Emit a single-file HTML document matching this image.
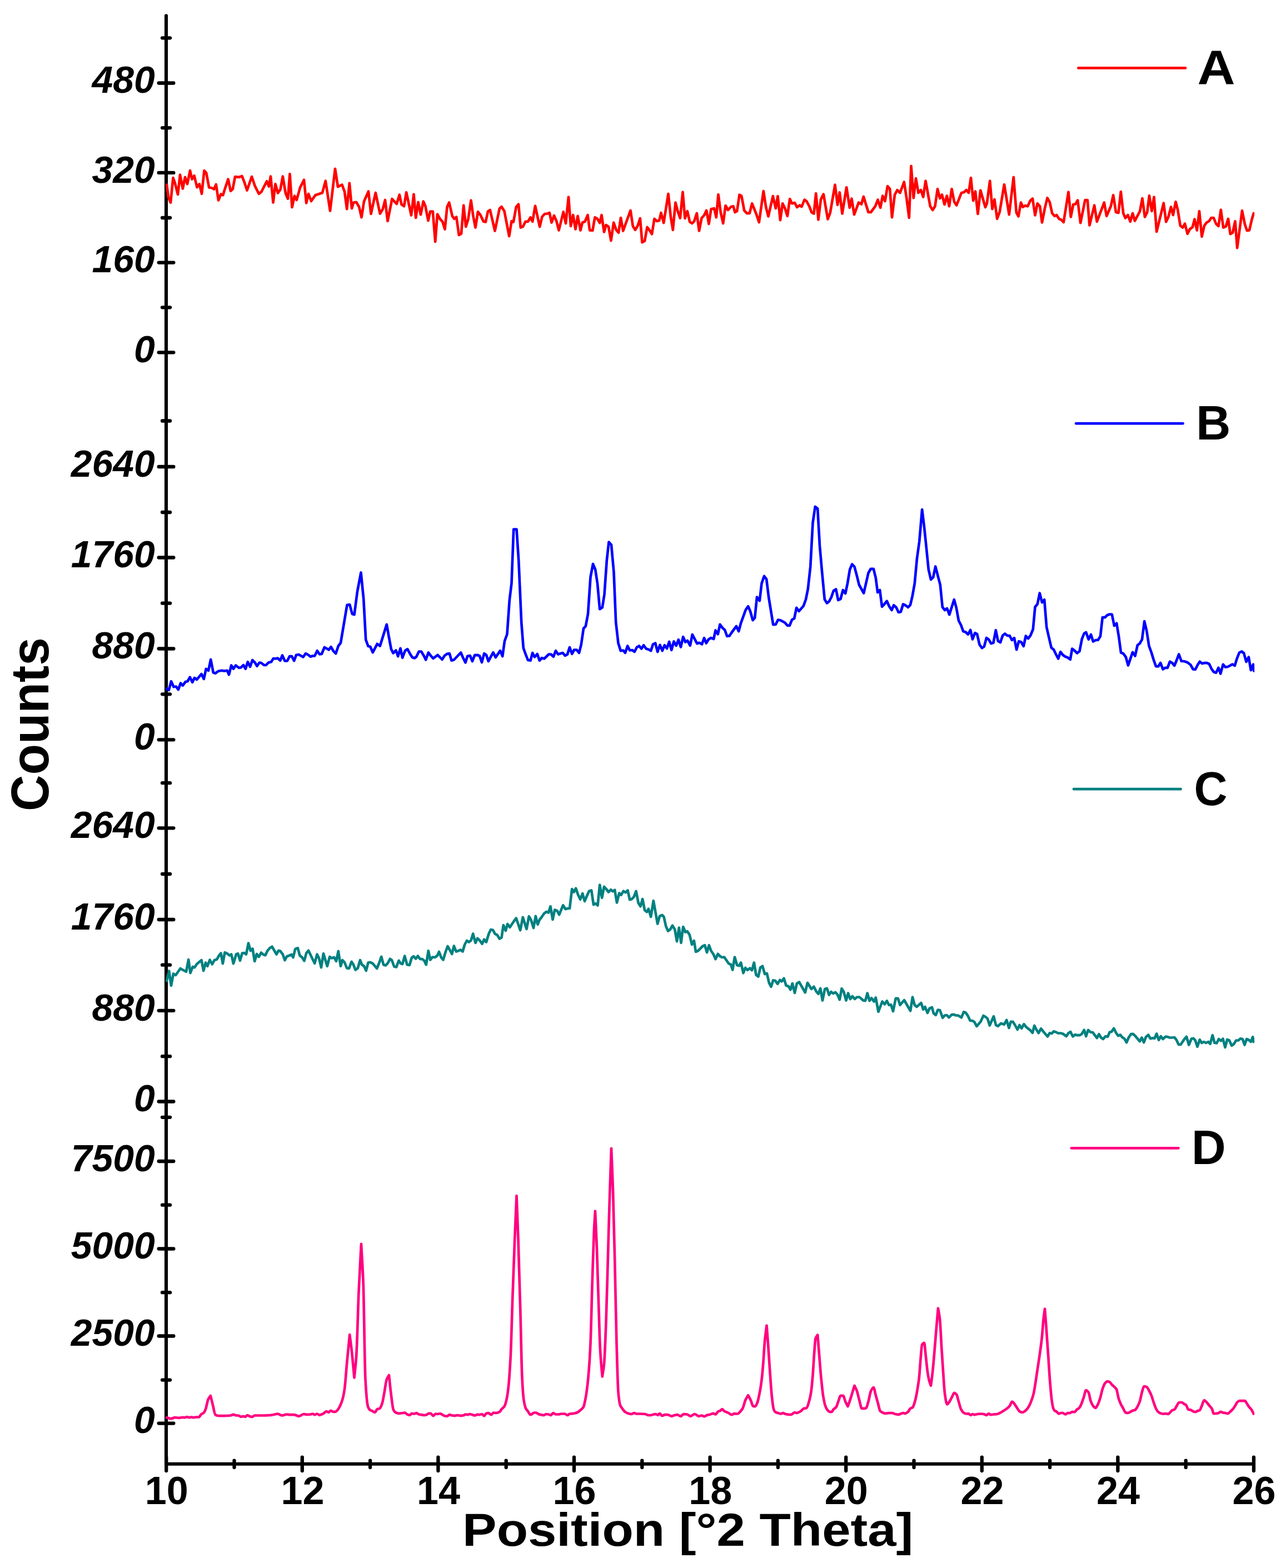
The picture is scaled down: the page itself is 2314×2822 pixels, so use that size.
<!DOCTYPE html>
<html lang="en"><head><meta charset="utf-8"><title>XRD patterns A-D</title>
<style>html,body{margin:0;padding:0;background:#fff}svg{display:block}text{font-family:"Liberation Sans",Arial,Helvetica,sans-serif;font-weight:bold;fill:#000}.yt{font-style:italic;font-size:70px;text-anchor:end}.xt{font-size:70.5px;text-anchor:middle}.ax{stroke:#000;stroke-linecap:round;fill:none}.cv{fill:none;stroke-linejoin:round;stroke-linecap:round;stroke-width:4.7}</style></head><body>
<svg width="2314" height="2822" viewBox="0 0 2314 2822" role="img" aria-label="X-ray diffraction patterns A, B, C and D: Counts versus Position in degrees 2 Theta">
<rect width="2314" height="2822" fill="#fff"/>
<g class="ax" stroke-width="6.1">
<line x1="299.0" y1="28.2" x2="299.0" y2="2634.8"/>
<line x1="299.0" y1="2634.8" x2="2256.0" y2="2634.8"/>
</g>
<g class="ax" stroke-width="6.3">
<line x1="285.7" y1="149.5" x2="312.3" y2="149.5"/>
<line x1="285.7" y1="310.9" x2="312.3" y2="310.9"/>
<line x1="285.7" y1="472.6" x2="312.3" y2="472.6"/>
<line x1="285.7" y1="634.3" x2="312.3" y2="634.3"/>
<line x1="285.7" y1="840.0" x2="312.3" y2="840.0"/>
<line x1="285.7" y1="1003.5" x2="312.3" y2="1003.5"/>
<line x1="285.7" y1="1167.5" x2="312.3" y2="1167.5"/>
<line x1="285.7" y1="1331.3" x2="312.3" y2="1331.3"/>
<line x1="285.7" y1="1490.3" x2="312.3" y2="1490.3"/>
<line x1="285.7" y1="1655.0" x2="312.3" y2="1655.0"/>
<line x1="285.7" y1="1818.8" x2="312.3" y2="1818.8"/>
<line x1="285.7" y1="1982.5" x2="312.3" y2="1982.5"/>
<line x1="285.7" y1="2090.0" x2="312.3" y2="2090.0"/>
<line x1="285.7" y1="2247.5" x2="312.3" y2="2247.5"/>
<line x1="285.7" y1="2404.5" x2="312.3" y2="2404.5"/>
<line x1="285.7" y1="2561.6" x2="312.3" y2="2561.6"/>
<line x1="292.0" y1="68.3" x2="306.0" y2="68.3"/>
<line x1="292.0" y1="230.1" x2="306.0" y2="230.1"/>
<line x1="292.0" y1="392.0" x2="306.0" y2="392.0"/>
<line x1="292.0" y1="553.3" x2="306.0" y2="553.3"/>
<line x1="292.0" y1="757.5" x2="306.0" y2="757.5"/>
<line x1="292.0" y1="922.0" x2="306.0" y2="922.0"/>
<line x1="292.0" y1="1085.7" x2="306.0" y2="1085.7"/>
<line x1="292.0" y1="1249.3" x2="306.0" y2="1249.3"/>
<line x1="292.0" y1="1409.2" x2="306.0" y2="1409.2"/>
<line x1="292.0" y1="1573.0" x2="306.0" y2="1573.0"/>
<line x1="292.0" y1="1736.7" x2="306.0" y2="1736.7"/>
<line x1="292.0" y1="1901.2" x2="306.0" y2="1901.2"/>
<line x1="292.0" y1="2010.8" x2="306.0" y2="2010.8"/>
<line x1="292.0" y1="2168.7" x2="306.0" y2="2168.7"/>
<line x1="292.0" y1="2326.2" x2="306.0" y2="2326.2"/>
<line x1="292.0" y1="2483.6" x2="306.0" y2="2483.6"/>
<line x1="299.2" y1="2622.6" x2="299.2" y2="2647.0"/>
<line x1="421.5" y1="2628.6" x2="421.5" y2="2641.0"/>
<line x1="543.8" y1="2622.6" x2="543.8" y2="2647.0"/>
<line x1="666.1" y1="2628.6" x2="666.1" y2="2641.0"/>
<line x1="788.4" y1="2622.6" x2="788.4" y2="2647.0"/>
<line x1="910.7" y1="2628.6" x2="910.7" y2="2641.0"/>
<line x1="1033.0" y1="2622.6" x2="1033.0" y2="2647.0"/>
<line x1="1155.3" y1="2628.6" x2="1155.3" y2="2641.0"/>
<line x1="1277.6" y1="2622.6" x2="1277.6" y2="2647.0"/>
<line x1="1399.9" y1="2628.6" x2="1399.9" y2="2641.0"/>
<line x1="1522.2" y1="2622.6" x2="1522.2" y2="2647.0"/>
<line x1="1644.5" y1="2628.6" x2="1644.5" y2="2641.0"/>
<line x1="1766.8" y1="2622.6" x2="1766.8" y2="2647.0"/>
<line x1="1889.1" y1="2628.6" x2="1889.1" y2="2641.0"/>
<line x1="2011.4" y1="2622.6" x2="2011.4" y2="2647.0"/>
<line x1="2133.7" y1="2628.6" x2="2133.7" y2="2641.0"/>
<line x1="2256.0" y1="2622.6" x2="2256.0" y2="2647.0"/>
</g>
<clipPath id="plot"><rect x="296" y="0" width="1961.2" height="2634"/></clipPath>
<g clip-path="url(#plot)">
<polyline class="cv" stroke="#ff0000" points="300.0,332.5 303.0,355.0 307.0,364.5 311.5,320.0 315.0,330.0 320.0,350.0 324.0,314.5 328.8,339.5 333.0,318.8 337.0,331.2 342.0,307.0 345.5,322.5 349.5,316.2 354.5,337.0 358.8,331.2 363.0,348.8 367.5,307.0 371.2,311.2 376.2,337.5 380.5,338.0 385.0,340.5 388.8,332.0 393.0,360.5 397.5,349.5 401.2,351.2 405.5,337.5 410.5,322.5 415.0,343.8 418.8,340.0 423.0,318.0 430.0,318.8 435.5,317.0 440.0,328.8 444.5,342.5 453.0,318.0 458.8,335.0 465.8,348.8 470.5,345.0 480.0,326.2 483.8,335.5 487.0,317.5 491.5,364.5 495.5,331.2 500.0,347.5 504.5,341.2 508.8,317.5 513.8,347.5 518.0,357.5 521.5,313.0 525.5,373.0 530.0,352.5 533.8,360.0 540.0,337.5 547.0,323.8 551.2,365.5 555.0,348.8 560.0,362.0 567.5,351.2 580.0,347.0 585.8,325.5 594.0,379.5 603.0,303.8 608.0,336.2 615.5,332.5 620.0,345.0 624.2,376.2 628.8,329.5 633.0,375.0 636.2,364.5 641.2,363.8 646.2,372.5 650.5,391.2 655.0,362.5 663.0,344.5 667.5,385.0 675.8,347.0 683.8,384.5 688.8,376.2 693.0,360.0 697.5,398.0 705.5,358.0 713.8,367.0 718.8,350.5 722.5,368.0 727.0,371.2 731.2,346.2 740.0,387.5 744.5,349.5 748.2,392.0 752.5,363.8 757.0,386.2 761.8,362.5 765.5,371.2 770.5,397.0 774.2,380.5 778.8,380.5 783.2,435.0 787.0,385.5 792.0,394.5 796.2,398.8 800.5,412.5 804.5,372.5 808.2,364.5 813.8,388.8 817.5,393.8 821.2,390.5 825.8,423.0 830.0,420.5 834.2,369.5 838.2,408.0 842.5,394.5 847.5,360.5 851.2,387.5 855.5,409.5 860.0,381.2 864.5,387.0 870.0,398.8 873.8,399.5 878.0,380.5 881.8,378.0 890.5,415.5 898.8,375.5 902.5,372.0 907.5,380.0 916.2,425.0 920.5,398.0 923.8,399.5 928.8,372.5 933.0,367.5 936.8,409.5 941.2,407.5 945.5,398.8 950.0,398.8 954.5,391.2 958.2,398.8 963.0,370.5 971.2,408.0 975.5,390.0 980.0,385.0 985.0,384.5 988.8,383.0 992.5,400.5 997.0,388.0 1001.2,397.5 1005.5,414.5 1013.8,381.2 1018.0,402.0 1023.0,354.5 1027.0,407.0 1031.2,387.0 1035.5,412.5 1039.5,388.8 1044.5,414.5 1048.0,400.5 1052.5,398.8 1057.5,387.0 1061.2,414.5 1066.2,415.0 1070.5,391.2 1075.0,393.8 1079.2,401.2 1082.5,387.0 1087.0,417.5 1090.5,405.0 1095.0,408.0 1099.5,433.0 1104.2,400.5 1108.8,413.8 1113.0,418.8 1117.0,392.0 1121.2,415.5 1125.0,405.0 1134.5,378.8 1138.8,407.0 1143.0,413.8 1147.5,406.2 1151.8,393.0 1155.5,436.2 1160.0,433.8 1164.5,408.8 1168.8,414.5 1173.0,421.2 1177.5,393.8 1182.0,398.0 1186.2,397.0 1189.5,383.0 1194.2,401.2 1202.5,348.8 1206.8,389.5 1210.8,413.8 1215.5,364.5 1219.5,380.0 1223.8,392.5 1228.5,345.5 1232.5,393.0 1236.8,380.0 1241.2,399.5 1245.5,402.0 1249.2,398.0 1253.8,383.8 1258.0,415.5 1262.5,392.5 1267.0,387.5 1271.2,378.8 1275.5,403.0 1279.5,376.2 1285.0,375.0 1288.8,391.2 1292.5,350.0 1296.8,382.5 1301.2,402.0 1305.5,370.0 1310.0,378.0 1315.5,372.0 1319.5,371.2 1322.5,382.0 1326.2,380.0 1330.5,350.5 1334.2,352.5 1339.2,378.8 1343.8,383.8 1348.8,383.8 1353.2,366.2 1361.2,386.2 1365.8,400.0 1373.8,343.8 1378.2,372.5 1382.5,389.5 1390.8,353.0 1395.8,375.0 1399.5,353.0 1404.0,396.2 1408.2,366.2 1412.5,375.0 1416.8,388.8 1421.2,358.0 1425.0,366.2 1430.0,365.0 1434.2,373.0 1438.8,369.5 1442.5,372.0 1447.5,359.5 1451.2,362.0 1456.2,371.2 1460.5,382.5 1464.5,384.5 1468.2,348.0 1472.5,395.5 1477.0,358.8 1481.8,349.5 1489.5,394.5 1493.8,383.0 1502.5,332.5 1507.0,368.8 1510.8,346.2 1515.5,384.5 1523.2,337.0 1528.8,373.8 1532.5,357.5 1537.0,386.2 1545.0,364.5 1550.0,367.5 1553.8,353.8 1562.5,382.0 1567.0,382.0 1575.0,371.2 1579.5,359.5 1584.2,373.8 1588.2,352.5 1592.5,362.0 1597.0,335.0 1601.2,340.0 1605.0,391.2 1610.0,350.5 1614.5,342.0 1619.5,347.0 1626.8,327.5 1631.2,356.2 1635.8,392.0 1639.5,298.8 1643.8,356.2 1648.0,321.2 1652.5,347.0 1657.0,342.0 1661.2,354.5 1665.5,325.5 1673.8,371.2 1678.2,378.0 1682.5,371.2 1687.0,340.0 1691.2,357.0 1695.0,350.5 1699.5,368.0 1703.8,352.5 1708.0,371.2 1712.5,340.0 1717.0,363.0 1721.2,369.5 1730.0,347.0 1734.2,346.2 1738.8,342.0 1743.0,347.0 1747.0,320.0 1751.2,361.2 1755.0,344.5 1759.5,385.0 1764.2,342.5 1773.0,373.0 1775.8,366.2 1781.2,325.5 1785.5,376.2 1789.5,358.8 1794.2,393.8 1798.8,381.2 1807.0,332.0 1815.8,386.2 1823.8,318.8 1828.8,382.5 1832.5,389.5 1837.0,364.5 1840.5,372.5 1845.0,370.0 1849.2,371.2 1853.8,361.2 1858.0,357.5 1862.5,387.5 1866.8,366.2 1871.2,371.2 1875.0,400.5 1880.0,375.0 1884.5,356.2 1888.8,363.8 1893.2,383.8 1897.5,388.8 1901.2,387.0 1905.5,393.8 1909.5,395.5 1913.8,400.0 1922.5,345.5 1926.8,390.5 1931.2,368.0 1935.0,367.5 1939.2,360.5 1944.2,401.2 1952.5,360.0 1956.8,360.0 1960.5,405.5 1969.2,369.5 1973.8,398.8 1986.8,364.5 1991.2,388.8 1998.8,371.2 2003.2,351.2 2008.0,382.0 2012.5,383.0 2016.8,345.0 2021.2,383.8 2025.0,392.5 2029.5,387.0 2033.8,398.8 2038.0,383.8 2042.0,397.5 2051.2,380.0 2055.5,357.0 2060.0,390.5 2064.2,382.0 2068.0,352.0 2072.5,380.0 2076.5,354.5 2081.2,417.0 2093.8,365.5 2098.2,399.2 2102.5,390.0 2107.0,372.5 2110.8,387.0 2115.5,363.2 2119.2,377.5 2123.8,406.2 2128.2,409.5 2132.0,402.5 2136.8,420.8 2140.8,412.5 2145.8,408.8 2149.5,394.5 2153.8,414.5 2158.0,380.0 2162.5,425.8 2167.0,406.2 2171.2,400.5 2175.5,398.0 2179.5,392.0 2183.8,392.0 2188.0,402.5 2192.5,407.0 2196.8,377.5 2201.2,409.5 2205.8,407.5 2210.0,393.8 2213.8,421.2 2218.0,418.8 2222.5,398.2 2226.2,446.2 2235.0,379.2 2240.0,403.8 2243.8,415.0 2248.0,414.5 2252.5,395.0 2255.8,383.8"/>
<polyline class="cv" stroke="#0000ff" points="300.0,1239.5 303.8,1242.0 308.0,1226.2 312.5,1236.2 316.8,1235.5 320.8,1241.2 325.0,1229.5 328.8,1233.8 333.8,1227.0 337.5,1226.2 341.8,1218.8 346.2,1228.0 350.0,1220.0 354.2,1223.0 362.5,1213.0 366.8,1222.0 370.8,1203.8 375.0,1207.0 379.2,1187.0 383.8,1210.5 387.5,1211.8 392.5,1208.0 398.8,1206.8 403.8,1207.5 408.8,1206.8 412.0,1214.2 416.2,1197.5 420.0,1203.8 424.2,1197.5 430.0,1202.0 433.8,1201.2 438.0,1197.0 441.8,1203.8 445.8,1191.2 450.0,1200.0 454.2,1188.0 458.8,1192.5 462.5,1198.8 466.8,1192.5 470.0,1193.0 475.0,1197.0 478.8,1197.0 483.0,1192.5 488.0,1191.2 492.0,1185.0 496.2,1185.5 499.5,1184.5 504.2,1188.8 508.0,1179.5 512.5,1189.5 516.8,1189.5 521.2,1181.2 525.0,1181.2 529.2,1189.2 533.0,1178.8 537.5,1178.0 545.5,1182.5 550.0,1176.2 553.8,1178.0 558.8,1181.8 562.5,1180.5 566.2,1180.5 570.8,1171.2 575.0,1177.5 578.8,1177.0 583.8,1165.0 587.5,1167.0 591.8,1169.5 595.5,1164.2 600.0,1171.8 604.2,1176.2 608.8,1162.5 613.0,1157.0 624.5,1088.8 629.2,1088.0 633.8,1105.0 637.5,1106.2 643.0,1064.5 649.5,1030.5 654.2,1077.5 658.2,1151.2 662.5,1163.0 666.2,1163.8 670.8,1174.2 678.8,1158.8 683.8,1162.5 695.8,1123.8 700.0,1147.5 703.8,1168.0 707.5,1175.5 712.5,1170.5 716.2,1181.2 720.5,1166.8 724.2,1183.8 728.8,1171.2 733.2,1168.2 737.5,1176.2 741.8,1183.0 745.8,1184.5 749.2,1182.0 753.8,1172.5 758.0,1172.5 762.5,1180.0 766.2,1187.5 770.8,1174.5 775.0,1180.0 779.5,1185.0 787.5,1178.8 791.2,1182.5 795.5,1187.0 800.0,1180.0 804.2,1176.8 808.8,1176.2 812.5,1188.8 816.8,1187.5 829.2,1174.5 833.2,1183.8 837.5,1192.5 841.2,1180.8 845.8,1180.0 850.0,1190.0 854.2,1179.2 858.8,1178.8 863.0,1180.5 867.0,1192.0 871.2,1176.2 875.0,1178.8 878.8,1190.0 887.5,1174.2 891.8,1183.2 900.0,1171.2 904.2,1181.2 908.0,1153.8 912.5,1141.2 916.8,1080.0 920.5,1049.5 924.2,952.5 929.5,952.5 933.2,1007.5 938.2,1120.0 941.8,1166.2 945.8,1177.5 950.0,1188.0 954.5,1188.8 958.2,1175.0 962.0,1182.5 966.8,1177.0 970.8,1188.8 975.0,1184.2 979.2,1185.5 987.5,1177.5 991.2,1177.5 995.8,1181.8 1000.0,1171.2 1004.2,1177.5 1012.5,1175.0 1016.8,1180.0 1020.8,1178.0 1025.0,1165.0 1029.2,1176.8 1033.2,1169.5 1037.5,1169.5 1042.0,1175.0 1045.8,1160.0 1050.0,1131.2 1053.8,1127.0 1058.0,1105.0 1062.5,1038.8 1067.0,1015.0 1071.2,1025.0 1075.0,1050.0 1079.2,1096.2 1083.8,1093.2 1087.5,1070.0 1091.8,1008.8 1095.5,975.5 1100.0,980.5 1104.5,1030.0 1108.2,1120.0 1112.5,1157.5 1116.8,1171.2 1121.2,1170.5 1125.0,1175.0 1129.2,1162.5 1133.2,1170.5 1137.5,1170.0 1141.8,1173.0 1145.8,1165.0 1150.0,1162.5 1154.2,1167.5 1158.2,1161.2 1162.5,1167.5 1166.8,1168.8 1171.2,1171.2 1175.0,1159.5 1179.2,1157.5 1183.2,1173.2 1187.5,1160.8 1191.8,1171.2 1195.8,1161.2 1200.0,1167.0 1204.2,1155.0 1208.2,1170.0 1212.5,1154.5 1216.8,1162.0 1220.8,1151.2 1225.0,1164.5 1229.2,1146.2 1233.2,1155.5 1237.0,1153.0 1241.8,1161.8 1245.8,1142.0 1254.2,1158.2 1258.2,1156.8 1263.0,1159.5 1267.0,1148.2 1270.8,1157.5 1275.0,1150.8 1279.2,1148.0 1284.2,1150.0 1287.5,1134.5 1291.8,1141.2 1295.5,1123.8 1300.0,1130.0 1304.2,1133.8 1308.2,1145.0 1312.5,1144.5 1316.8,1138.0 1325.0,1127.0 1329.2,1136.2 1333.2,1121.2 1341.8,1097.5 1346.2,1091.2 1350.0,1100.0 1354.5,1116.2 1358.2,1112.0 1362.0,1074.5 1366.8,1081.2 1370.5,1050.0 1375.0,1036.8 1379.2,1042.5 1383.2,1075.0 1391.2,1124.2 1395.8,1123.8 1400.0,1115.5 1404.2,1116.2 1412.5,1120.8 1416.8,1125.8 1420.8,1125.8 1425.0,1115.5 1429.2,1113.0 1433.2,1093.8 1437.5,1100.0 1445.8,1090.5 1450.0,1078.8 1453.8,1060.0 1458.2,1020.0 1462.5,941.2 1466.8,911.8 1471.2,915.5 1475.0,982.5 1479.2,1030.0 1483.8,1078.8 1488.0,1085.5 1491.8,1082.5 1495.8,1075.0 1500.0,1063.0 1504.2,1060.5 1508.2,1080.0 1512.5,1078.2 1516.8,1062.0 1521.2,1068.0 1525.0,1050.0 1529.2,1025.0 1533.2,1015.5 1537.5,1020.0 1541.8,1036.2 1545.8,1052.5 1550.0,1060.0 1554.2,1067.5 1562.5,1031.2 1566.8,1023.8 1571.8,1023.8 1575.8,1040.0 1579.2,1066.2 1583.2,1062.0 1587.0,1091.8 1591.2,1087.5 1595.8,1081.8 1600.0,1091.2 1604.5,1098.0 1608.2,1089.2 1612.5,1093.0 1616.8,1102.0 1620.8,1101.2 1625.0,1087.5 1629.2,1089.2 1633.8,1093.0 1638.0,1088.8 1641.8,1072.5 1645.8,1050.0 1650.0,1005.0 1654.2,975.0 1659.2,917.0 1663.2,950.0 1666.8,985.0 1670.8,1025.0 1675.0,1043.0 1679.2,1038.8 1683.2,1019.5 1687.5,1036.2 1691.8,1052.5 1695.8,1092.5 1700.0,1098.0 1704.2,1095.0 1708.2,1106.2 1716.8,1079.2 1720.8,1093.8 1725.0,1117.0 1729.2,1125.0 1733.2,1136.2 1737.5,1137.5 1741.8,1141.8 1746.2,1133.8 1750.0,1150.5 1754.2,1139.2 1758.2,1141.2 1762.5,1160.0 1766.8,1166.2 1770.8,1163.8 1775.0,1148.0 1779.2,1151.2 1783.2,1158.2 1787.5,1156.8 1791.8,1134.2 1795.8,1153.8 1800.0,1156.2 1804.2,1143.8 1808.2,1140.5 1812.5,1143.8 1816.8,1144.2 1820.8,1152.0 1825.0,1148.2 1829.2,1169.2 1833.2,1154.2 1837.5,1155.5 1841.8,1163.0 1845.8,1144.5 1850.0,1149.2 1854.2,1143.8 1858.8,1132.5 1862.5,1092.5 1866.8,1087.0 1870.8,1067.5 1875.0,1084.2 1879.2,1079.2 1883.2,1128.8 1887.5,1147.5 1891.8,1165.8 1895.8,1168.8 1900.0,1177.5 1904.2,1185.5 1908.2,1173.2 1912.5,1178.8 1916.8,1181.8 1920.8,1183.2 1925.8,1187.0 1929.2,1167.5 1933.8,1171.2 1938.2,1175.5 1942.5,1172.0 1946.8,1150.0 1950.8,1140.0 1954.2,1138.0 1958.8,1150.8 1963.0,1142.0 1967.0,1154.5 1971.8,1152.0 1975.8,1151.8 1980.0,1145.0 1983.8,1111.2 1988.2,1111.2 1992.5,1107.0 1996.8,1105.5 2000.8,1105.8 2005.0,1126.2 2009.2,1121.8 2013.2,1146.2 2017.0,1174.5 2021.2,1176.2 2025.8,1182.5 2030.0,1197.5 2038.0,1173.8 2042.5,1180.5 2046.8,1161.2 2050.8,1158.2 2055.0,1150.8 2059.2,1118.2 2063.2,1135.0 2067.5,1162.5 2071.8,1174.2 2075.8,1187.5 2080.0,1199.2 2084.2,1199.5 2088.2,1193.0 2092.5,1204.5 2096.8,1201.8 2100.8,1201.8 2105.0,1190.8 2109.2,1193.0 2113.2,1198.0 2117.5,1187.5 2121.2,1177.5 2125.8,1190.0 2130.0,1190.0 2134.2,1191.2 2138.2,1193.2 2142.5,1196.8 2146.8,1204.5 2150.8,1205.0 2155.0,1196.8 2158.8,1190.8 2163.2,1194.2 2167.5,1193.0 2171.8,1193.2 2175.8,1195.0 2180.0,1203.8 2184.2,1209.5 2188.2,1210.8 2192.5,1201.8 2196.2,1212.5 2200.8,1195.8 2205.0,1200.8 2209.2,1200.0 2213.2,1198.0 2217.5,1195.5 2221.8,1198.0 2225.8,1185.0 2230.0,1174.5 2234.2,1172.5 2238.2,1175.5 2242.5,1191.2 2246.8,1182.5 2250.8,1206.2 2255.0,1195.8 2256.2,1207.5"/>
<polyline class="cv" stroke="#008080" points="300.0,1765.0 304.2,1747.5 308.0,1773.8 312.0,1752.5 316.2,1755.0 324.5,1743.0 328.8,1745.5 335.0,1748.8 339.2,1727.0 342.5,1751.2 346.8,1740.0 350.0,1741.2 354.2,1735.0 362.5,1728.0 366.2,1747.0 370.0,1732.5 373.2,1738.8 377.5,1727.5 381.8,1735.5 385.8,1728.0 390.0,1726.8 394.2,1719.5 397.5,1715.5 400.8,1734.2 404.5,1714.2 408.8,1716.2 413.0,1719.5 416.2,1717.5 420.0,1734.2 425.0,1717.5 428.2,1716.2 432.0,1728.8 435.8,1715.5 439.5,1715.0 443.0,1717.5 447.0,1697.5 450.8,1711.2 454.5,1707.5 458.2,1730.0 462.0,1717.0 465.8,1722.0 470.0,1714.5 473.8,1718.0 477.5,1719.2 481.2,1711.2 485.5,1706.2 489.5,1703.8 493.2,1710.0 497.5,1717.5 501.2,1710.8 504.5,1711.8 508.8,1717.5 512.5,1728.2 516.2,1721.2 520.0,1720.0 524.5,1718.0 527.5,1723.2 531.2,1708.0 535.8,1706.2 539.5,1720.0 543.2,1722.5 547.5,1729.2 551.2,1715.5 555.0,1710.8 566.2,1733.8 570.5,1717.5 574.2,1725.0 578.0,1741.2 582.0,1716.2 588.8,1738.8 593.2,1722.0 597.0,1724.5 601.2,1723.0 605.0,1730.0 608.8,1711.8 613.0,1738.8 616.2,1728.0 620.0,1732.0 624.2,1742.5 628.0,1743.0 632.5,1730.8 635.8,1735.8 639.5,1745.5 643.8,1742.5 648.0,1728.0 651.2,1736.2 655.0,1738.8 658.8,1747.0 662.5,1732.5 666.2,1731.8 670.5,1733.8 678.2,1743.0 682.5,1732.5 686.2,1721.8 690.0,1736.2 693.8,1737.5 697.5,1733.8 701.8,1725.8 705.0,1728.0 709.2,1739.5 713.2,1740.5 717.5,1728.8 720.8,1733.8 724.2,1735.0 728.2,1720.5 732.5,1736.2 736.8,1737.0 740.8,1723.8 744.2,1721.2 748.2,1725.5 751.8,1720.5 755.8,1725.8 760.0,1726.2 763.2,1728.8 766.8,1736.2 770.8,1711.2 774.2,1727.5 778.2,1722.5 782.5,1723.0 786.8,1720.0 790.0,1713.0 794.2,1723.8 797.5,1727.5 801.8,1713.0 805.5,1703.0 809.2,1709.5 813.2,1717.0 816.8,1702.5 820.8,1712.5 825.0,1711.2 828.8,1709.5 832.5,1712.5 836.2,1700.0 840.0,1693.0 843.8,1695.5 847.5,1692.5 851.2,1680.5 855.5,1697.0 859.2,1688.8 863.2,1692.5 867.5,1698.8 871.2,1690.8 875.0,1695.5 879.5,1680.5 883.2,1673.0 887.0,1673.8 890.8,1680.8 894.5,1682.5 898.8,1689.5 902.5,1687.5 905.8,1665.0 910.0,1675.0 913.2,1663.0 917.5,1668.8 925.0,1657.5 928.8,1652.5 936.2,1674.2 940.8,1650.8 947.5,1672.0 951.8,1649.2 955.5,1655.5 960.0,1670.0 963.8,1648.8 967.5,1663.8 970.8,1655.5 975.0,1650.0 979.2,1643.8 983.2,1640.8 987.0,1642.5 990.5,1631.2 994.5,1655.0 998.2,1637.5 1002.5,1639.2 1006.2,1646.2 1013.2,1629.2 1017.5,1636.2 1021.2,1635.0 1025.0,1635.0 1029.2,1600.0 1032.5,1605.5 1036.2,1598.8 1040.0,1610.0 1044.2,1618.8 1048.2,1608.0 1052.0,1622.0 1055.8,1613.0 1060.0,1603.8 1064.2,1602.5 1068.0,1628.2 1071.8,1626.2 1075.5,1629.5 1079.2,1592.5 1083.2,1615.8 1087.0,1595.8 1090.8,1600.0 1095.0,1605.5 1099.2,1601.2 1102.5,1604.2 1106.2,1601.8 1110.0,1624.5 1114.2,1607.5 1117.5,1610.8 1121.8,1603.8 1125.8,1606.2 1129.5,1602.5 1133.2,1619.2 1137.0,1618.0 1140.8,1613.8 1144.5,1603.8 1148.8,1625.5 1152.5,1631.2 1156.2,1618.0 1160.0,1638.0 1163.8,1641.2 1167.0,1635.8 1171.2,1650.0 1175.8,1621.2 1183.2,1662.5 1187.0,1648.8 1191.2,1646.8 1194.5,1650.0 1198.2,1666.8 1202.0,1675.5 1205.8,1673.0 1210.0,1665.8 1214.2,1672.5 1218.0,1694.2 1221.8,1669.5 1225.5,1696.8 1229.2,1668.0 1233.2,1677.5 1236.8,1676.2 1240.8,1682.5 1245.0,1700.0 1248.8,1693.0 1252.0,1713.0 1256.2,1711.2 1264.2,1703.0 1268.2,1701.2 1272.0,1714.2 1275.8,1701.2 1279.5,1711.2 1283.8,1717.5 1287.5,1726.2 1291.8,1716.8 1295.8,1721.2 1299.2,1723.0 1303.2,1722.5 1311.2,1734.2 1315.0,1735.8 1318.2,1745.5 1322.0,1722.5 1326.2,1737.0 1330.0,1738.2 1333.2,1732.5 1337.5,1751.2 1341.2,1741.8 1345.0,1745.8 1349.2,1742.5 1353.0,1746.2 1356.8,1732.5 1360.5,1754.5 1364.5,1757.5 1368.2,1741.2 1372.0,1738.8 1376.2,1753.0 1380.0,1752.0 1383.8,1768.8 1387.5,1775.8 1391.2,1764.2 1395.0,1765.0 1399.2,1770.8 1403.2,1763.8 1406.8,1766.2 1410.5,1760.8 1414.5,1773.8 1418.8,1775.0 1422.5,1781.2 1425.8,1770.0 1430.0,1787.0 1433.8,1770.0 1438.0,1767.5 1448.8,1786.2 1453.0,1768.8 1460.0,1780.0 1464.5,1775.8 1468.8,1784.5 1472.5,1788.8 1476.2,1778.8 1480.0,1800.5 1484.2,1780.0 1488.0,1778.8 1491.8,1790.5 1495.5,1785.0 1499.2,1788.0 1503.2,1785.8 1507.0,1790.0 1510.8,1799.2 1514.5,1779.2 1518.2,1785.0 1522.5,1800.5 1526.2,1787.5 1530.0,1798.0 1533.8,1793.0 1538.0,1798.0 1542.0,1794.5 1546.2,1794.5 1550.0,1797.5 1553.2,1800.5 1557.0,1801.2 1560.8,1787.5 1564.5,1801.2 1568.2,1796.2 1572.5,1802.5 1575.8,1795.5 1580.5,1820.8 1587.5,1802.5 1591.8,1807.5 1595.8,1801.2 1599.5,1808.8 1603.2,1808.2 1607.0,1820.0 1611.8,1796.8 1615.8,1796.8 1619.5,1808.8 1627.0,1800.0 1638.2,1819.2 1642.0,1794.5 1645.8,1808.8 1649.5,1812.0 1657.5,1805.0 1661.2,1816.8 1664.5,1812.0 1668.8,1823.0 1672.5,1815.0 1677.0,1813.0 1680.0,1823.8 1683.8,1826.8 1687.5,1817.5 1691.2,1818.0 1696.2,1831.8 1700.0,1827.5 1703.8,1827.0 1707.5,1831.2 1712.5,1826.2 1716.2,1825.8 1720.0,1827.5 1723.8,1827.5 1730.0,1831.2 1734.2,1821.2 1737.5,1822.5 1741.2,1827.5 1745.8,1837.0 1749.5,1837.0 1753.2,1839.2 1757.5,1847.0 1764.5,1838.8 1769.5,1828.0 1773.2,1830.0 1777.0,1833.2 1780.8,1845.5 1788.0,1829.2 1792.0,1845.0 1795.8,1846.8 1801.2,1841.8 1806.8,1843.8 1811.2,1835.8 1815.5,1850.0 1818.8,1838.8 1822.5,1838.8 1826.2,1844.5 1830.8,1853.0 1834.5,1845.0 1838.2,1850.8 1842.5,1843.2 1846.2,1848.2 1853.8,1854.2 1858.0,1858.8 1861.2,1845.8 1865.0,1853.2 1868.8,1859.2 1873.2,1851.2 1877.5,1856.8 1885.0,1865.5 1888.8,1859.2 1892.5,1860.0 1896.2,1856.2 1900.0,1857.5 1903.8,1859.5 1908.8,1859.5 1912.5,1860.5 1918.8,1865.0 1922.5,1859.2 1926.2,1857.0 1930.5,1865.5 1934.5,1862.0 1938.2,1863.2 1942.5,1863.2 1946.2,1861.2 1950.8,1853.8 1954.2,1865.0 1958.0,1853.8 1962.0,1857.5 1966.2,1858.0 1970.0,1863.2 1973.8,1868.2 1977.5,1861.2 1981.2,1867.5 1985.0,1870.0 1989.2,1865.0 1993.2,1865.8 1996.8,1857.5 2000.0,1857.0 2004.2,1850.8 2008.2,1858.8 2012.0,1864.2 2015.8,1862.5 2019.5,1867.0 2023.2,1869.2 2027.0,1876.2 2030.8,1867.5 2035.0,1861.2 2038.8,1860.8 2042.5,1864.2 2046.8,1869.2 2050.8,1874.2 2054.5,1867.5 2058.2,1876.2 2062.0,1866.2 2066.2,1862.5 2070.0,1869.2 2073.8,1868.2 2077.5,1868.8 2081.2,1860.5 2085.0,1871.8 2088.8,1865.0 2092.5,1870.0 2097.5,1865.5 2101.2,1866.2 2105.0,1867.5 2109.2,1867.5 2113.2,1867.0 2117.0,1871.8 2120.8,1880.0 2124.5,1880.0 2131.2,1870.0 2135.0,1865.8 2139.2,1880.5 2143.8,1869.5 2147.5,1868.8 2150.8,1872.5 2154.5,1883.8 2158.8,1871.2 2162.5,1877.0 2166.2,1875.0 2170.0,1877.0 2174.2,1875.0 2177.5,1878.8 2181.8,1863.2 2185.5,1876.8 2189.2,1877.5 2193.0,1870.0 2197.0,1873.2 2200.5,1869.5 2204.5,1885.0 2208.2,1870.8 2212.0,1872.5 2216.2,1881.8 2220.0,1879.2 2224.2,1872.5 2228.2,1872.5 2232.0,1869.2 2235.8,1870.0 2239.5,1880.5 2243.2,1870.0 2247.5,1872.0 2250.8,1875.0 2254.2,1866.2 2255.8,1875.0"/>
<path class="cv" stroke="#ff0080" d="M300.0,2551.2C302.5,2551.9 305.0,2553.2 307.5,2553.2C310.0,2553.2 312.5,2551.2 315.0,2551.2C317.5,2551.2 320.0,2551.8 322.5,2551.8C324.6,2551.8 326.7,2550.8 328.8,2550.8C330.0,2550.8 331.2,2551.2 332.5,2551.2C333.8,2551.2 335.0,2550.0 336.2,2550.0C337.5,2550.0 338.8,2551.2 340.0,2551.2C341.2,2551.2 342.5,2550.5 343.8,2550.5C345.4,2550.5 347.1,2551.2 348.8,2551.2C350.0,2551.2 351.2,2550.5 352.5,2550.5C354.2,2550.5 355.8,2550.5 357.5,2550.5C359.2,2550.5 360.8,2546.2 362.5,2545.0C363.8,2544.1 365.0,2544.0 366.2,2543.0C367.5,2542.0 368.8,2539.3 370.0,2536.2C371.5,2532.6 373.0,2522.1 374.5,2518.8C375.9,2515.6 377.3,2514.2 378.8,2512.0C380.2,2517.6 381.6,2523.2 383.0,2528.8C384.5,2534.6 386.0,2545.3 387.5,2546.2C389.2,2547.3 390.8,2547.9 392.5,2548.0C395.0,2548.2 397.5,2548.2 400.0,2548.2C402.5,2548.2 405.0,2548.1 407.5,2548.0C410.0,2547.9 412.5,2547.8 415.0,2547.5C416.7,2547.3 418.3,2545.8 420.0,2545.8C421.7,2545.8 423.3,2547.5 425.0,2547.5C426.2,2547.5 427.5,2547.5 428.8,2547.5C430.4,2547.5 432.1,2550.0 433.8,2550.0C435.0,2550.0 436.2,2548.8 437.5,2548.8C438.8,2548.8 440.0,2550.0 441.2,2550.0C442.5,2550.0 443.8,2547.0 445.0,2547.0C446.7,2547.0 448.3,2548.8 450.0,2549.2C451.2,2549.6 452.5,2550.0 453.8,2550.0C455.2,2550.0 456.6,2547.5 458.0,2547.5C460.3,2547.5 462.7,2547.5 465.0,2547.5C468.3,2547.5 471.7,2547.5 475.0,2547.5C479.2,2547.5 483.3,2547.1 487.5,2546.8C490.0,2546.5 492.5,2546.0 495.0,2545.5C496.5,2545.2 498.0,2544.5 499.5,2544.5C500.9,2544.5 502.3,2545.7 503.8,2546.2C505.0,2546.7 506.2,2547.5 507.5,2547.5C509.2,2547.5 510.8,2546.6 512.5,2546.2C513.8,2546.0 515.0,2545.5 516.2,2545.5C517.9,2545.5 519.6,2546.2 521.2,2546.2C523.8,2546.2 526.2,2546.2 528.8,2546.2C530.4,2546.2 532.1,2547.0 533.8,2547.5C535.0,2547.9 536.2,2548.8 537.5,2548.8C538.8,2548.8 540.0,2548.0 541.2,2547.5C542.9,2546.8 544.6,2545.0 546.2,2545.0C548.3,2545.0 550.4,2545.8 552.5,2545.8C554.6,2545.8 556.7,2545.7 558.8,2545.5C560.0,2545.4 561.2,2544.5 562.5,2544.5C563.8,2544.5 565.0,2546.2 566.2,2546.2C567.7,2546.2 569.1,2544.5 570.5,2544.5C572.0,2544.5 573.5,2546.8 575.0,2546.8C576.2,2546.8 577.5,2546.0 578.8,2545.5C580.2,2544.9 581.6,2544.1 583.0,2543.2C584.5,2542.3 586.0,2540.0 587.5,2540.0C588.8,2540.0 590.0,2542.0 591.2,2542.0C592.5,2542.0 593.8,2538.8 595.0,2538.8C596.5,2538.8 598.0,2540.8 599.5,2540.8C600.9,2540.8 602.3,2540.8 603.8,2540.8C605.0,2540.8 606.2,2538.9 607.5,2537.5C609.0,2535.8 610.5,2533.1 612.0,2530.0C613.4,2527.1 614.8,2523.7 616.2,2518.8C617.5,2514.4 618.8,2508.5 620.0,2500.0C621.5,2489.8 623.0,2465.9 624.5,2450.0C626.1,2433.2 627.7,2418.0 629.2,2402.0C630.5,2412.2 631.8,2421.1 633.0,2432.5C634.5,2446.2 636.0,2463.8 637.5,2479.5C638.8,2466.3 640.0,2458.8 641.2,2440.0C642.7,2418.7 644.1,2356.8 645.5,2325.0C647.0,2291.3 648.5,2267.5 650.0,2238.8C651.2,2263.3 652.5,2278.2 653.8,2312.5C655.0,2346.8 656.2,2460.2 657.5,2482.5C659.0,2509.2 660.5,2527.0 662.0,2531.2C663.2,2534.8 664.5,2536.6 665.8,2537.5C667.2,2538.6 668.6,2538.8 670.0,2539.5C671.5,2540.2 673.0,2541.8 674.5,2541.8C675.9,2541.8 677.3,2536.9 678.8,2536.2C680.2,2535.6 681.6,2535.7 683.0,2535.0C684.5,2534.2 686.0,2530.5 687.5,2526.2C688.9,2522.3 690.3,2512.5 691.8,2505.0C693.1,2497.9 694.4,2486.1 695.8,2482.5C697.2,2478.7 698.6,2477.5 700.0,2475.0C701.2,2486.7 702.5,2500.4 703.8,2510.0C705.2,2520.9 706.6,2534.8 708.0,2537.5C709.5,2540.4 711.0,2541.9 712.5,2542.5C714.2,2543.2 715.8,2543.8 717.5,2543.8C720.0,2543.8 722.5,2543.3 725.0,2543.0C726.2,2542.9 727.5,2542.5 728.8,2542.5C730.0,2542.5 731.2,2544.9 732.5,2545.5C734.0,2546.2 735.5,2547.0 737.0,2547.0C738.4,2547.0 739.8,2543.8 741.2,2543.8C742.5,2543.8 743.8,2544.5 745.0,2544.5C746.5,2544.5 748.0,2543.2 749.5,2543.2C750.9,2543.2 752.3,2545.2 753.8,2545.5C755.4,2545.9 757.1,2546.0 758.8,2546.2C760.4,2546.5 762.1,2547.0 763.8,2547.0C765.0,2547.0 766.2,2546.6 767.5,2546.2C768.8,2545.9 770.0,2543.8 771.2,2543.8C772.5,2543.8 773.8,2543.8 775.0,2543.8C776.5,2543.8 778.0,2548.2 779.5,2548.2C780.9,2548.2 782.3,2544.5 783.8,2544.5C785.0,2544.5 786.2,2545.0 787.5,2545.0C789.0,2545.0 790.5,2544.2 792.0,2544.2C793.4,2544.2 794.8,2545.5 796.2,2546.2C797.5,2546.9 798.8,2548.0 800.0,2548.2C801.5,2548.5 803.0,2548.8 804.5,2548.8C805.9,2548.8 807.3,2546.2 808.8,2546.2C810.4,2546.2 812.1,2547.3 813.8,2547.5C815.4,2547.7 817.1,2548.0 818.8,2548.0C820.0,2548.0 821.2,2547.0 822.5,2547.0C825.0,2547.0 827.5,2548.0 830.0,2548.0C831.7,2548.0 833.3,2547.5 835.0,2547.0C835.8,2546.7 836.7,2545.5 837.5,2545.5C838.8,2545.5 840.0,2546.2 841.2,2546.2C842.5,2546.2 843.8,2545.0 845.0,2545.0C846.7,2545.0 848.3,2545.8 850.0,2546.2C851.5,2546.6 853.0,2547.5 854.5,2547.5C855.9,2547.5 857.3,2545.8 858.8,2545.8C860.0,2545.8 861.2,2546.2 862.5,2546.2C864.0,2546.2 865.5,2545.0 867.0,2545.0C868.4,2545.0 869.8,2548.2 871.2,2548.2C872.5,2548.2 873.8,2544.2 875.0,2543.8C876.2,2543.3 877.5,2543.0 878.8,2543.0C880.4,2543.0 882.1,2546.2 883.8,2546.2C885.2,2546.2 886.6,2542.5 888.0,2542.5C889.5,2542.5 891.0,2543.0 892.5,2543.0C894.6,2543.0 896.7,2542.3 898.8,2541.2C900.0,2540.6 901.2,2537.7 902.5,2536.2C904.2,2534.3 905.8,2533.8 907.5,2531.2C908.8,2529.3 910.0,2525.2 911.2,2520.0C912.5,2514.8 913.8,2506.5 915.0,2495.0C916.2,2483.5 917.5,2464.4 918.8,2440.0C920.0,2415.6 921.2,2364.9 922.5,2330.0C923.8,2295.1 925.0,2261.5 926.2,2230.0C927.3,2202.7 928.4,2178.0 929.5,2152.0C930.5,2178.0 931.5,2200.9 932.5,2230.0C933.8,2266.4 935.0,2310.3 936.2,2355.0C937.3,2393.8 938.4,2458.7 939.5,2480.0C940.5,2499.7 941.5,2513.7 942.5,2520.0C943.8,2527.8 945.0,2532.5 946.2,2535.0C947.5,2537.5 948.8,2538.3 950.0,2540.0C951.5,2542.0 953.0,2546.2 954.5,2546.2C956.8,2546.2 959.0,2542.5 961.2,2542.5C962.5,2542.5 963.8,2542.5 965.0,2542.5C966.2,2542.5 967.5,2544.5 968.8,2545.0C970.4,2545.6 972.1,2545.9 973.8,2546.2C975.4,2546.6 977.1,2547.0 978.8,2547.0C980.0,2547.0 981.2,2545.0 982.5,2545.0C984.0,2545.0 985.5,2545.2 987.0,2545.5C988.4,2545.7 989.8,2547.0 991.2,2547.0C992.7,2547.0 994.1,2543.0 995.5,2543.0C997.0,2543.0 998.5,2545.5 1000.0,2545.5C1001.7,2545.5 1003.3,2545.5 1005.0,2545.5C1006.7,2545.5 1008.3,2544.5 1010.0,2544.5C1012.1,2544.5 1014.2,2544.5 1016.2,2544.5C1017.9,2544.5 1019.6,2547.0 1021.2,2547.0C1022.5,2547.0 1023.8,2544.6 1025.0,2544.5C1026.7,2544.3 1028.3,2544.4 1030.0,2544.2C1031.7,2544.1 1033.3,2543.7 1035.0,2543.2C1036.2,2542.9 1037.5,2542.6 1038.8,2542.0C1040.0,2541.4 1041.2,2540.4 1042.5,2539.5C1043.8,2538.6 1045.0,2537.5 1046.2,2536.2C1047.5,2535.0 1048.8,2534.3 1050.0,2532.0C1051.0,2530.2 1052.0,2524.8 1053.0,2520.0C1054.1,2514.8 1055.2,2508.3 1056.2,2500.0C1057.3,2491.7 1058.4,2481.1 1059.5,2467.5C1060.5,2455.0 1061.5,2439.9 1062.5,2417.5C1063.6,2393.2 1064.7,2339.3 1065.8,2305.0C1066.8,2273.4 1067.8,2238.6 1068.8,2217.5C1069.5,2201.7 1070.2,2192.2 1071.0,2179.5C1071.9,2200.5 1072.8,2218.5 1073.8,2242.5C1074.8,2270.8 1075.9,2310.1 1077.0,2342.5C1078.0,2372.4 1079.0,2412.1 1080.0,2430.0C1081.2,2452.4 1082.5,2461.7 1083.8,2477.5C1084.8,2470.0 1085.9,2466.3 1087.0,2455.0C1088.2,2442.9 1089.3,2411.0 1090.5,2380.0C1091.6,2351.2 1092.7,2305.0 1093.8,2267.5C1094.8,2230.0 1095.9,2189.4 1097.0,2155.0C1098.0,2123.2 1099.0,2096.2 1100.0,2066.8C1101.0,2092.0 1102.0,2112.1 1103.0,2142.5C1104.1,2175.4 1105.2,2222.0 1106.2,2267.5C1107.3,2313.0 1108.4,2378.9 1109.5,2417.5C1110.5,2453.1 1111.5,2493.2 1112.5,2505.0C1113.6,2517.8 1114.7,2525.8 1115.8,2528.8C1116.8,2531.4 1117.8,2532.3 1118.8,2533.8C1120.8,2536.7 1122.9,2539.8 1125.0,2541.2C1126.7,2542.4 1128.3,2543.3 1130.0,2543.8C1132.1,2544.4 1134.2,2545.0 1136.2,2545.0C1137.9,2545.0 1139.6,2543.0 1141.2,2543.0C1142.5,2543.0 1143.8,2544.5 1145.0,2544.5C1147.5,2544.5 1150.0,2544.5 1152.5,2544.5C1155.4,2544.5 1158.3,2544.7 1161.2,2545.0C1162.9,2545.2 1164.6,2547.0 1166.2,2547.0C1167.9,2547.0 1169.6,2547.0 1171.2,2547.0C1172.9,2547.0 1174.6,2545.8 1176.2,2545.5C1177.5,2545.3 1178.8,2545.0 1180.0,2545.0C1181.2,2545.0 1182.5,2546.8 1183.8,2546.8C1184.8,2546.8 1185.9,2543.8 1187.0,2543.8C1188.4,2543.8 1189.8,2548.0 1191.2,2548.0C1192.9,2548.0 1194.6,2546.2 1196.2,2546.2C1197.9,2546.2 1199.6,2546.2 1201.2,2546.2C1203.8,2546.2 1206.2,2548.8 1208.8,2548.8C1210.4,2548.8 1212.1,2547.3 1213.8,2547.0C1215.4,2546.7 1217.1,2546.2 1218.8,2546.2C1220.8,2546.2 1222.9,2548.8 1225.0,2548.8C1226.7,2548.8 1228.3,2545.0 1230.0,2545.0C1232.1,2545.0 1234.2,2545.2 1236.2,2545.5C1238.3,2545.8 1240.4,2548.8 1242.5,2548.8C1245.0,2548.8 1247.5,2545.0 1250.0,2545.0C1252.5,2545.0 1255.0,2548.8 1257.5,2548.8C1259.2,2548.8 1260.8,2547.5 1262.5,2547.5C1264.0,2547.5 1265.5,2549.2 1267.0,2549.2C1268.8,2549.2 1270.7,2547.3 1272.5,2546.8C1274.2,2546.3 1275.8,2546.2 1277.5,2545.8C1279.6,2545.2 1281.7,2543.8 1283.8,2543.8C1285.0,2543.8 1286.2,2545.5 1287.5,2545.5C1289.0,2545.5 1290.5,2541.4 1292.0,2540.5C1293.4,2539.7 1294.8,2539.5 1296.2,2538.8C1297.3,2538.2 1298.4,2536.2 1299.5,2536.2C1300.9,2536.2 1302.3,2539.2 1303.8,2540.0C1305.8,2541.2 1307.9,2541.5 1310.0,2542.5C1312.3,2543.6 1314.7,2546.2 1317.0,2546.2C1318.4,2546.2 1319.8,2544.2 1321.2,2544.2C1323.3,2544.2 1325.4,2544.5 1327.5,2544.5C1328.8,2544.5 1330.0,2542.5 1331.2,2541.2C1332.9,2539.6 1334.6,2537.9 1336.2,2535.0C1337.9,2532.1 1339.6,2523.7 1341.2,2520.0C1342.9,2516.3 1344.6,2514.2 1346.2,2511.2C1347.8,2514.2 1349.2,2516.7 1350.8,2520.0C1352.2,2523.1 1353.6,2530.0 1355.0,2530.5C1356.2,2531.0 1357.5,2531.2 1358.8,2531.2C1360.0,2531.2 1361.2,2527.9 1362.5,2525.0C1363.8,2522.1 1365.0,2516.0 1366.2,2510.0C1367.5,2504.0 1368.8,2496.9 1370.0,2487.5C1371.1,2479.3 1372.2,2467.7 1373.2,2455.0C1374.2,2443.2 1375.2,2423.0 1376.2,2412.5C1377.3,2401.1 1378.4,2394.5 1379.5,2385.5C1380.5,2398.7 1381.5,2411.0 1382.5,2425.0C1383.5,2439.0 1384.5,2456.0 1385.5,2470.0C1386.6,2485.2 1387.7,2502.2 1388.8,2512.5C1389.8,2522.0 1390.8,2531.9 1391.8,2535.0C1392.8,2538.3 1393.9,2540.6 1395.0,2541.2C1396.7,2542.3 1398.3,2542.5 1400.0,2543.0C1401.7,2543.5 1403.3,2544.5 1405.0,2544.5C1406.2,2544.5 1407.5,2543.2 1408.8,2543.2C1410.4,2543.2 1412.1,2544.7 1413.8,2545.0C1415.4,2545.3 1417.1,2545.8 1418.8,2545.8C1420.4,2545.8 1422.1,2545.8 1423.8,2545.8C1425.8,2545.8 1427.9,2542.0 1430.0,2542.0C1431.2,2542.0 1432.5,2543.0 1433.8,2543.0C1436.2,2543.0 1438.8,2541.1 1441.2,2539.5C1442.9,2538.5 1444.6,2535.4 1446.2,2535.0C1447.9,2534.6 1449.6,2534.7 1451.2,2534.2C1452.5,2533.9 1453.8,2528.9 1455.0,2525.0C1456.5,2520.3 1458.0,2514.5 1459.5,2505.0C1460.5,2498.7 1461.5,2487.0 1462.5,2475.0C1463.5,2463.0 1464.5,2442.3 1465.5,2430.0C1466.2,2421.8 1466.8,2410.8 1467.5,2408.8C1468.8,2404.9 1470.0,2404.6 1471.2,2402.5C1472.2,2415.0 1473.2,2427.6 1474.2,2440.0C1475.3,2453.4 1476.4,2468.9 1477.5,2480.0C1478.8,2492.8 1480.0,2504.9 1481.2,2512.5C1482.5,2520.1 1483.8,2526.5 1485.0,2530.0C1486.2,2533.5 1487.5,2536.0 1488.8,2537.5C1490.0,2539.0 1491.2,2540.5 1492.5,2540.8C1493.8,2541.0 1495.0,2541.2 1496.2,2541.2C1497.5,2541.2 1498.8,2537.5 1500.0,2536.2C1501.5,2534.7 1503.0,2534.4 1504.5,2532.5C1505.9,2530.7 1507.3,2524.9 1508.8,2521.2C1510.0,2518.0 1511.2,2511.8 1512.5,2511.8C1514.0,2511.8 1515.5,2511.8 1517.0,2511.8C1518.4,2511.8 1519.8,2519.3 1521.2,2522.5C1522.7,2525.7 1524.1,2528.3 1525.5,2531.2C1526.8,2527.5 1528.2,2524.0 1529.5,2520.0C1530.9,2515.7 1532.3,2510.9 1533.8,2506.2C1535.0,2502.1 1536.2,2497.9 1537.5,2493.8C1539.0,2497.1 1540.5,2499.5 1542.0,2503.8C1543.4,2507.7 1544.8,2515.0 1546.2,2520.0C1547.8,2525.3 1549.2,2535.0 1550.8,2535.0C1553.2,2535.0 1555.6,2534.9 1558.0,2534.5C1559.5,2534.3 1561.0,2527.4 1562.5,2522.5C1564.0,2517.6 1565.5,2506.9 1567.0,2503.8C1568.6,2500.4 1570.2,2497.0 1571.8,2497.0C1573.1,2497.0 1574.4,2506.5 1575.8,2511.2C1577.2,2516.3 1578.6,2521.2 1580.0,2526.2C1581.2,2530.7 1582.5,2538.1 1583.8,2539.5C1585.0,2540.9 1586.2,2541.4 1587.5,2542.0C1589.2,2542.8 1590.8,2543.8 1592.5,2543.8C1594.6,2543.8 1596.7,2543.4 1598.8,2543.2C1600.8,2543.1 1602.9,2543.0 1605.0,2543.0C1607.1,2543.0 1609.2,2544.6 1611.2,2545.0C1612.9,2545.3 1614.6,2545.8 1616.2,2545.8C1617.9,2545.8 1619.6,2544.8 1621.2,2544.2C1622.5,2543.9 1623.8,2543.0 1625.0,2543.0C1626.2,2543.0 1627.5,2543.8 1628.8,2543.8C1630.4,2543.8 1632.1,2542.5 1633.8,2541.2C1635.0,2540.3 1636.2,2536.6 1637.5,2535.5C1639.2,2534.0 1640.8,2534.2 1642.5,2532.5C1643.8,2531.2 1645.0,2526.7 1646.2,2522.5C1647.5,2518.3 1648.8,2511.9 1650.0,2505.0C1651.2,2498.1 1652.5,2490.9 1653.8,2480.0C1654.6,2472.7 1655.4,2459.1 1656.2,2450.0C1657.2,2439.1 1658.2,2421.6 1659.2,2420.0C1660.5,2417.9 1661.8,2416.8 1663.0,2416.8C1663.9,2416.8 1664.8,2431.9 1665.8,2440.0C1666.8,2448.8 1667.8,2460.7 1668.8,2467.5C1669.8,2474.9 1670.9,2480.9 1672.0,2485.0C1673.0,2488.8 1674.0,2490.8 1675.0,2493.8C1676.0,2485.8 1677.0,2479.1 1678.0,2470.0C1679.1,2460.1 1680.2,2447.4 1681.2,2435.0C1682.3,2422.6 1683.4,2407.9 1684.5,2395.0C1685.7,2381.1 1686.8,2368.0 1688.0,2354.5C1689.1,2361.3 1690.2,2365.0 1691.2,2375.0C1692.2,2384.2 1693.2,2409.0 1694.2,2425.0C1695.3,2442.3 1696.4,2459.8 1697.5,2475.0C1698.3,2486.7 1699.2,2501.5 1700.0,2507.5C1701.4,2517.7 1702.8,2527.5 1704.2,2527.5C1705.8,2527.5 1707.2,2524.2 1708.8,2522.0C1710.2,2519.8 1711.8,2516.5 1713.2,2513.8C1714.5,2511.4 1715.8,2506.8 1717.0,2506.8C1718.4,2506.8 1719.8,2508.2 1721.2,2510.0C1722.5,2511.6 1723.8,2518.4 1725.0,2522.5C1726.4,2527.2 1727.8,2533.5 1729.2,2536.2C1730.8,2539.2 1732.2,2541.6 1733.8,2542.5C1735.4,2543.5 1737.1,2544.5 1738.8,2544.5C1740.0,2544.5 1741.2,2544.2 1742.5,2544.2C1743.9,2544.2 1745.3,2546.8 1746.8,2546.8C1747.8,2546.8 1748.9,2545.0 1750.0,2545.0C1751.2,2545.0 1752.5,2546.2 1753.8,2546.2C1755.4,2546.2 1757.1,2545.2 1758.8,2545.0C1760.8,2544.7 1762.9,2544.5 1765.0,2544.5C1766.7,2544.5 1768.3,2544.7 1770.0,2545.0C1771.7,2545.3 1773.3,2546.8 1775.0,2546.8C1776.4,2546.8 1777.8,2544.2 1779.2,2544.2C1780.3,2544.2 1781.4,2546.2 1782.5,2546.2C1784.2,2546.2 1785.8,2545.7 1787.5,2545.5C1789.6,2545.3 1791.7,2545.3 1793.8,2545.0C1795.8,2544.7 1797.9,2543.5 1800.0,2542.5C1802.1,2541.5 1804.2,2540.1 1806.2,2538.8C1808.3,2537.4 1810.4,2536.2 1812.5,2534.5C1814.0,2533.3 1815.5,2531.9 1817.0,2530.0C1818.4,2528.2 1819.8,2522.5 1821.2,2522.5C1822.5,2522.5 1823.8,2524.8 1825.0,2526.2C1826.7,2528.2 1828.3,2531.4 1830.0,2533.8C1831.7,2536.1 1833.3,2539.7 1835.0,2540.5C1836.7,2541.3 1838.3,2542.0 1840.0,2542.0C1841.2,2542.0 1842.5,2540.9 1843.8,2540.0C1845.4,2538.9 1847.1,2537.1 1848.8,2535.0C1850.0,2533.4 1851.2,2531.2 1852.5,2528.8C1853.8,2526.3 1855.0,2523.4 1856.2,2520.0C1857.5,2516.6 1858.8,2512.9 1860.0,2507.5C1861.2,2502.1 1862.5,2492.9 1863.8,2485.0C1865.0,2477.1 1866.2,2468.3 1867.5,2460.0C1868.8,2451.7 1870.0,2444.1 1871.2,2435.0C1872.5,2425.9 1873.8,2417.2 1875.0,2405.0C1875.8,2396.9 1876.7,2382.9 1877.5,2375.0C1878.3,2367.1 1879.2,2362.0 1880.0,2355.5C1880.8,2366.2 1881.7,2376.4 1882.5,2387.5C1883.8,2404.2 1885.0,2421.9 1886.2,2440.0C1887.2,2454.5 1888.2,2472.4 1889.2,2485.0C1890.3,2498.6 1891.4,2512.2 1892.5,2520.0C1893.3,2526.0 1894.2,2531.3 1895.0,2533.8C1895.8,2536.2 1896.7,2538.1 1897.5,2538.8C1898.8,2539.7 1900.0,2539.7 1901.2,2540.5C1902.5,2541.3 1903.8,2544.5 1905.0,2544.5C1906.2,2544.5 1907.5,2543.0 1908.8,2543.0C1910.0,2543.0 1911.2,2543.0 1912.5,2543.0C1914.0,2543.0 1915.5,2545.5 1917.0,2545.5C1918.4,2545.5 1919.8,2543.2 1921.2,2543.2C1922.5,2543.2 1923.8,2543.2 1925.0,2543.2C1926.4,2543.2 1927.8,2541.2 1929.2,2541.2C1930.8,2541.2 1932.2,2541.2 1933.8,2541.2C1935.0,2541.2 1936.2,2538.1 1937.5,2537.0C1939.0,2535.7 1940.5,2535.3 1942.0,2533.8C1943.2,2532.5 1944.3,2530.0 1945.5,2527.5C1947.0,2524.3 1948.5,2519.4 1950.0,2515.0C1951.4,2510.9 1952.8,2502.0 1954.2,2502.0C1955.8,2502.0 1957.2,2503.9 1958.8,2506.2C1960.0,2508.2 1961.2,2517.8 1962.5,2521.2C1963.9,2525.1 1965.3,2528.3 1966.8,2530.0C1968.2,2531.8 1969.8,2533.8 1971.2,2533.8C1972.7,2533.8 1974.1,2530.2 1975.5,2527.5C1977.0,2524.6 1978.5,2519.9 1980.0,2515.0C1981.2,2510.9 1982.5,2503.7 1983.8,2500.0C1985.2,2495.8 1986.6,2491.8 1988.0,2490.0C1989.5,2488.1 1991.0,2486.2 1992.5,2486.2C1993.8,2486.2 1995.0,2486.6 1996.2,2487.0C1997.9,2487.5 1999.6,2490.9 2001.2,2492.5C2002.5,2493.7 2003.8,2494.5 2005.0,2495.8C2006.2,2497.0 2007.5,2497.8 2008.8,2500.0C2010.2,2502.5 2011.6,2513.1 2013.0,2517.5C2014.3,2521.6 2015.7,2524.7 2017.0,2527.5C2018.4,2530.4 2019.8,2532.4 2021.2,2535.0C2022.5,2537.3 2023.8,2541.5 2025.0,2542.0C2026.4,2542.6 2027.8,2543.0 2029.2,2543.0C2030.8,2543.0 2032.2,2542.0 2033.8,2541.2C2035.2,2540.6 2036.6,2539.3 2038.0,2538.8C2039.5,2538.2 2041.0,2538.2 2042.5,2537.5C2043.8,2536.9 2045.0,2534.6 2046.2,2532.5C2047.8,2530.0 2049.2,2526.8 2050.8,2522.5C2052.2,2518.4 2053.6,2509.6 2055.0,2505.0C2056.2,2501.0 2057.5,2495.0 2058.8,2495.0C2060.2,2495.0 2061.8,2495.5 2063.2,2496.2C2064.7,2496.9 2066.1,2500.0 2067.5,2502.5C2069.0,2505.1 2070.5,2508.2 2072.0,2512.0C2073.4,2515.5 2074.8,2521.0 2076.2,2525.0C2077.5,2528.6 2078.8,2532.6 2080.0,2535.0C2081.4,2537.7 2082.8,2540.1 2084.2,2541.2C2085.8,2542.5 2087.2,2543.4 2088.8,2543.8C2090.4,2544.1 2092.1,2544.5 2093.8,2544.5C2095.0,2544.5 2096.2,2544.2 2097.5,2544.2C2098.9,2544.2 2100.3,2545.0 2101.8,2545.0C2102.8,2545.0 2103.9,2543.4 2105.0,2542.5C2106.4,2541.3 2107.8,2539.0 2109.2,2538.2C2110.6,2537.5 2111.9,2537.6 2113.2,2536.8C2114.7,2535.9 2116.1,2532.2 2117.5,2530.0C2118.8,2528.1 2120.0,2524.5 2121.2,2524.2C2122.8,2523.9 2124.2,2523.8 2125.8,2523.8C2127.2,2523.8 2128.6,2525.4 2130.0,2526.2C2131.4,2527.1 2132.8,2527.5 2134.2,2528.8C2135.6,2530.0 2136.9,2536.3 2138.2,2536.8C2139.7,2537.2 2141.1,2537.1 2142.5,2537.5C2143.9,2537.9 2145.3,2539.4 2146.8,2540.0C2148.1,2540.5 2149.4,2541.2 2150.8,2541.2C2152.2,2541.2 2153.6,2539.8 2155.0,2539.2C2156.2,2538.8 2157.5,2538.7 2158.8,2538.0C2160.0,2537.3 2161.2,2532.8 2162.5,2530.0C2163.9,2526.8 2165.3,2520.0 2166.8,2520.0C2168.2,2520.0 2169.8,2522.3 2171.2,2523.8C2172.9,2525.4 2174.6,2527.9 2176.2,2530.0C2177.8,2531.9 2179.2,2532.8 2180.8,2535.5C2181.8,2537.3 2182.8,2544.2 2183.8,2544.2C2185.4,2544.2 2187.1,2543.9 2188.8,2543.8C2190.0,2543.6 2191.2,2543.5 2192.5,2543.2C2193.8,2543.0 2195.0,2540.8 2196.2,2540.8C2197.8,2540.8 2199.2,2542.2 2200.8,2542.5C2202.2,2542.8 2203.6,2542.8 2205.0,2543.0C2206.4,2543.2 2207.8,2544.2 2209.2,2544.2C2210.8,2544.2 2212.2,2541.9 2213.8,2540.5C2215.4,2539.0 2217.1,2537.5 2218.8,2535.5C2220.0,2534.0 2221.2,2532.0 2222.5,2530.0C2223.8,2528.0 2225.0,2524.9 2226.2,2523.8C2227.5,2522.6 2228.8,2521.2 2230.0,2521.2C2231.7,2521.2 2233.3,2521.2 2235.0,2521.2C2236.7,2521.2 2238.3,2521.2 2240.0,2521.2C2241.2,2521.2 2242.5,2524.5 2243.8,2526.2C2245.0,2528.0 2246.2,2530.4 2247.5,2532.0C2248.8,2533.6 2250.0,2534.6 2251.2,2536.2C2252.2,2537.6 2253.2,2539.3 2254.2,2541.2C2254.8,2542.2 2255.2,2543.4 2255.8,2544.5"/>
</g>
<text class="yt" transform="translate(278.7 167.2) scale(0.97 0.985)">480</text>
<text class="yt" transform="translate(278.7 328.6) scale(0.97 0.985)">320</text>
<text class="yt" transform="translate(278.7 490.3) scale(0.97 0.985)">160</text>
<text class="yt" transform="translate(278.7 652.0) scale(0.97 0.985)">0</text>
<text class="yt" transform="translate(278.7 857.7) scale(0.97 0.985)">2640</text>
<text class="yt" transform="translate(278.7 1021.2) scale(0.97 0.985)">1760</text>
<text class="yt" transform="translate(278.7 1185.2) scale(0.97 0.985)">880</text>
<text class="yt" transform="translate(278.7 1349.0) scale(0.97 0.985)">0</text>
<text class="yt" transform="translate(278.7 1508.0) scale(0.97 0.985)">2640</text>
<text class="yt" transform="translate(278.7 1672.7) scale(0.97 0.985)">1760</text>
<text class="yt" transform="translate(278.7 1836.5) scale(0.97 0.985)">880</text>
<text class="yt" transform="translate(278.7 2000.2) scale(0.97 0.985)">0</text>
<text class="yt" transform="translate(278.7 2107.7) scale(0.97 0.985)">7500</text>
<text class="yt" transform="translate(278.7 2265.2) scale(0.97 0.985)">5000</text>
<text class="yt" transform="translate(278.7 2422.2) scale(0.97 0.985)">2500</text>
<text class="yt" transform="translate(278.7 2579.3) scale(0.97 0.985)">0</text>
<text class="xt" transform="translate(299.8 2706.6) scale(0.995 1)">10</text>
<text class="xt" transform="translate(544.4 2706.6) scale(0.995 1)">12</text>
<text class="xt" transform="translate(789.0 2706.6) scale(0.995 1)">14</text>
<text class="xt" transform="translate(1033.6 2706.6) scale(0.995 1)">16</text>
<text class="xt" transform="translate(1278.2 2706.6) scale(0.995 1)">18</text>
<text class="xt" transform="translate(1522.8 2706.6) scale(0.995 1)">20</text>
<text class="xt" transform="translate(1767.4 2706.6) scale(0.995 1)">22</text>
<text class="xt" transform="translate(2012.0 2706.6) scale(0.995 1)">24</text>
<text class="xt" transform="translate(2256.6 2706.6) scale(0.995 1)">26</text>
<text transform="translate(838.6 2782.4) scale(1.082 0.985)" font-size="85.3" x="-6" y="0">Position [°2 Theta]</text>
<text transform="translate(87.2 1456.4) rotate(-90) scale(1 1.07)" font-size="90.8" x="-3.6" y="0">Counts</text>
<line x1="1940.4" y1="122.4" x2="2133.0" y2="122.4" stroke="#ff0000" stroke-width="4.8" stroke-linecap="round"/>
<text transform="translate(2157.2 151.4) scale(1.077 1.0)" font-size="87.5" x="-2.6" y="0">A</text>
<line x1="1936.2" y1="762.2" x2="2128.5" y2="762.2" stroke="#0000ff" stroke-width="4.8" stroke-linecap="round"/>
<text transform="translate(2158.3 791.0) scale(0.984 0.985)" font-size="87.5" x="-6.1" y="0">B</text>
<line x1="1932.1" y1="1420.2" x2="2124.5" y2="1420.2" stroke="#008080" stroke-width="4.8" stroke-linecap="round"/>
<text transform="translate(2151.8 1449.3) scale(0.95 0.985)" font-size="87.5" x="-3.5" y="0">C</text>
<line x1="1927.9" y1="2066.3" x2="2120.4" y2="2066.3" stroke="#ff0080" stroke-width="4.8" stroke-linecap="round"/>
<text transform="translate(2150.0 2094.8) scale(0.976 0.995)" font-size="87.5" x="-6.1" y="0">D</text>
</svg></body></html>
